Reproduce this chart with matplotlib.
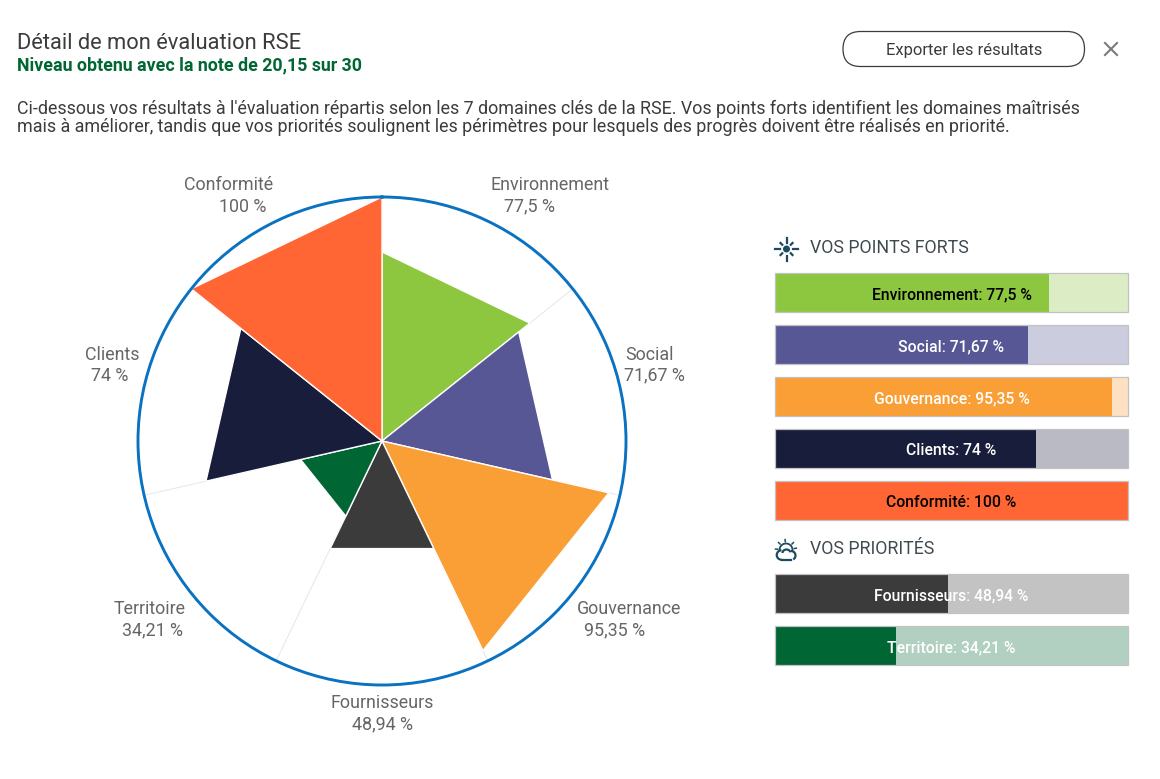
# -*- coding: utf-8 -*-
import numpy as np
import matplotlib
matplotlib.use('Agg')
import matplotlib.pyplot as plt
from matplotlib.patches import FancyBboxPatch, Circle, Arc

plt.rcParams['font.family'] = ['Roboto', 'DejaVu Sans']

# donnees
domaines = ['Environnement', 'Social', 'Gouvernance', 'Fournisseurs',
            'Territoire', 'Clients', 'Conformité']
valeurs = [77.5, 71.67, 95.35, 48.94, 34.21, 74, 100]
valeurs_txt = ['77,5 %', '71,67 %', '95,35 %', '48,94 %', '34,21 %', '74 %', '100 %']
couleurs = ['#8dc63f', '#585796', '#fa9e36', '#3b3b3b', '#006633', '#181d3b', '#ff6633']

forts = ['Environnement', 'Social', 'Gouvernance', 'Clients', 'Conformité']
priorites = ['Fournisseurs', 'Territoire']
txt_noir = ['Environnement', 'Conformité']

W, H = 1160, 779
DARK = '#3c3c3c'
ICON = '#1d4a5f'


def box(x0, y0, x1, y1):
    # rectangle en pixels (origine en haut a gauche) -> fractions de figure
    return [x0/W, 1-y1/H, (x1-x0)/W, (y1-y0)/H]


fig = plt.figure(figsize=(W/100, H/100), dpi=100, facecolor='white')

# fond : textes en pixels
bg = fig.add_axes([0, 0, 1, 1])
bg.set_xlim(0, W); bg.set_ylim(H, 0); bg.axis('off')

bg.text(17, 43.5, 'Détail de mon évaluation RSE', fontsize=15.75, color=DARK, va='center')
bg.text(17, 65.5, 'Niveau obtenu avec la note de 20,15 sur 30', fontsize=12.75,
        color='#006633', fontweight='bold', va='center')
bg.text(17, 109, "Ci-dessous vos résultats à l'évaluation répartis selon les 7 domaines clés de la RSE. "
        "Vos points forts identifient les domaines maîtrisés", fontsize=12.9, color=DARK, va='center')
bg.text(17, 126.5, "mais à améliorer, tandis que vos priorités soulignent les périmètres pour lesquels "
        "des progrès doivent être réalisés en priorité.", fontsize=12.9, color=DARK, va='center')

# bouton export + croix
bg.add_patch(FancyBboxPatch((843, 31.5), 241.5, 35, boxstyle='round,pad=0,rounding_size=17.5',
                            fc='white', ec=DARK, lw=0.9))
bg.text(964, 50, 'Exporter les résultats', fontsize=12, color=DARK, ha='center', va='center')
bg.plot([1105, 1117], [43, 55], color='#7a7a7a', lw=1.5)
bg.plot([1105, 1117], [55, 43], color='#7a7a7a', lw=1.5)

# radar
ax = fig.add_axes(box(382-244, 441-244, 382+244, 441+244), projection='polar')
ax.set_theta_zero_location('N'); ax.set_theta_direction(-1)
ax.set_ylim(0, 100)
n = len(valeurs)
pas = 2*np.pi/n
for i, (v, c) in enumerate(zip(valeurs, couleurs)):
    ax.fill([i*pas, i*pas, (i+1)*pas], [0, v, v], fc=c, ec='white', lw=1.0, zorder=3)
ax.set_xticks(np.arange(n)*pas); ax.set_xticklabels([])
ax.set_yticks([])
ax.grid(True, color='#e6e6e6', lw=0.7)
ax.spines['polar'].set_color('#0a72c0'); ax.spines['polar'].set_linewidth(2.1)
ax.spines['polar'].set_zorder(5)

# etiquettes du radar
pos_lab = [(550, 184.5), (650, 354.5), (629, 608.5), (382, 702.5), (150, 608.5), (112, 354.5), (229, 184.5)]
pos_val = [(529, 206.5), (654, 375.5), (615, 630.5), (383, 724.5), (153, 630.5), (110, 375.5), (243, 206.5)]
for nom, txt, p, q in zip(domaines, valeurs_txt, pos_lab, pos_val):
    bg.text(p[0], p[1], nom, fontsize=12.9, color='#666666', ha='center', va='center')
    bg.text(q[0], q[1], txt, fontsize=12.9, color='#666666', ha='center', va='center')

# barres
rangs = {'Environnement': 292.5, 'Social': 344.5, 'Gouvernance': 396.5, 'Clients': 448.5,
         'Conformité': 500.5, 'Fournisseurs': 593.5, 'Territoire': 645.5}
bx = fig.add_axes(box(775, 0, 1128, H))
bx.set_xlim(0, 100); bx.set_ylim(H, 0); bx.axis('off'); bx.patch.set_alpha(0)
for nom in forts + priorites:
    i = domaines.index(nom)
    y = rangs[nom]
    bx.barh(y, 100, height=38, color=couleurs[i], alpha=0.3, lw=0)
    bx.barh(y, valeurs[i], height=38, color=couleurs[i], lw=0)
    bx.barh(y, 100, height=38.5, fill=False, ec='#c2c2c2', lw=0.9, clip_on=False)
    coul = 'black' if nom in txt_noir else 'white'
    bx.text(50, y+2, f'{nom}: {valeurs_txt[i]}', fontsize=11.3, color=coul, ha='center',
            va='center', fontweight='medium')

# titres de section
bg.text(810, 247.5, 'VOS POINTS FORTS', fontsize=12.8, color='#3f4a50', va='center')
bg.text(810, 549.5, 'VOS PRIORITÉS', fontsize=12.8, color='#3f4a50', va='center')

# icone soleil
cx, cy = 786.5, 249
bg.add_patch(Circle((cx, cy), 3.5, fc=ICON, ec='none'))
for a in np.arange(8)*np.pi/4:
    r0, r1 = (6.5, 11.5) if round(a/(np.pi/2), 3) % 1 == 0 else (6, 8.5)
    bg.plot([cx+r0*np.cos(a), cx+r1*np.cos(a)], [cy+r0*np.sin(a), cy+r1*np.sin(a)], color=ICON, lw=1.6)

# icone nuage : soleil derriere, nuage devant
bg.add_patch(Arc((786, 550), 13, 13, theta1=150, theta2=30, color=ICON, lw=1.3))
for a in np.deg2rad([185, 225, 265, 315, 350]):
    bg.plot([786+8.5*np.cos(a), 786+10.5*np.cos(a)], [550+8.5*np.sin(a), 550+10.5*np.sin(a)], color=ICON, lw=1.1)
bg.add_patch(Circle((782, 555), 4.5, fc='white', ec='none', zorder=3))
bg.add_patch(Circle((790, 555), 4.5, fc='white', ec='none', zorder=3))
bg.add_patch(Arc((781.5, 555), 9.5, 9.5, theta1=90, theta2=270, color=ICON, lw=1.6, zorder=4))
bg.add_patch(Arc((791, 555.5), 9, 9, theta1=270, theta2=60, color=ICON, lw=1.6, zorder=4))
bg.add_patch(Arc((786.5, 553), 8, 7, theta1=180, theta2=350, color=ICON, lw=1.6, zorder=4))
bg.plot([781.5, 791], [559.8, 559.8], color=ICON, lw=1.6, zorder=4)

fig.savefig('out.png', dpi=100)
